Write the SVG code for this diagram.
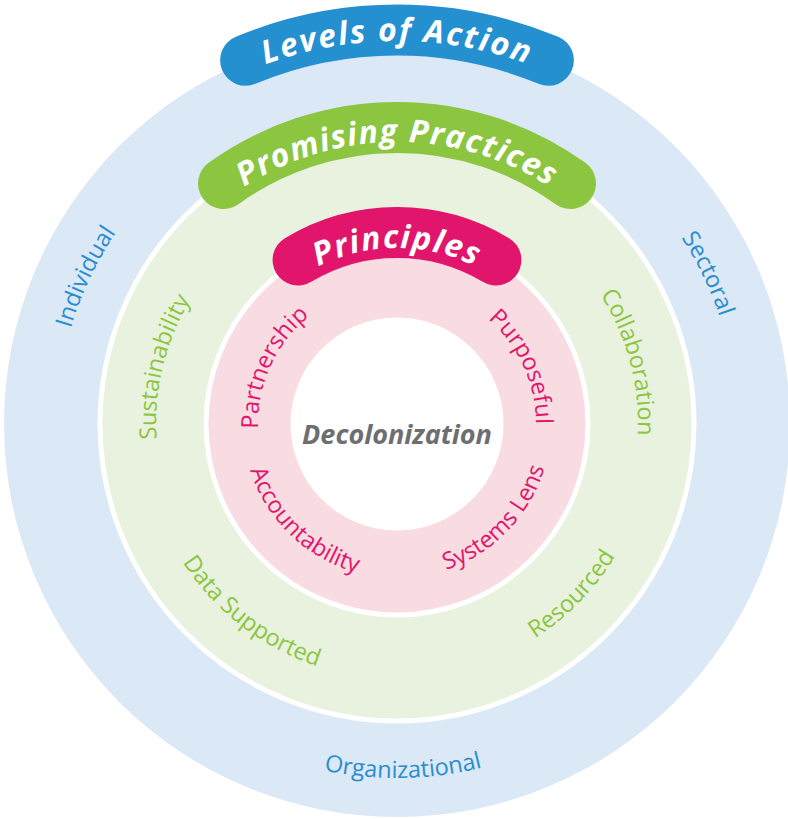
<svg xmlns="http://www.w3.org/2000/svg" xmlns:xlink="http://www.w3.org/1999/xlink" width="788" height="819" viewBox="0 0 788 819">
  <style>
    .band { fill: none; stroke-width: 51; stroke-linecap: round; }
    .title { font-family: "Open Sans", "DejaVu Sans", sans-serif; font-weight: 700; font-style: italic; font-size: 32px; fill: #ffffff; }
    .lbl { font-family: "Open Sans", "DejaVu Sans", sans-serif; font-size: 23.5px; font-stretch: 90%; }
    .blue { fill: #2a8dd0; }
    .green { fill: #8cc641; }
    .pink { fill: #e0156b; }
  </style>
  <defs>
    <!-- clockwise arcs centred on the top of the rings (text reads along the top) -->
    <path id="cw383" d="M 15.46 390.62 A 383 383 0 0 1 778.54 390.62"/>
    <path id="cw282" d="M 116.07 399.42 A 282 282 0 0 1 677.93 399.42"/>
    <path id="cw176" d="M 221.67 408.66 A 176 176 0 0 1 572.33 408.66"/>
    <path id="cw340" d="M 58.30 394.37 A 340 340 0 0 1 735.70 394.37"/>
    <path id="cw241" d="M 156.92 402.99 A 241 241 0 0 1 637.08 402.99"/>
    <path id="cw139" d="M 258.53 411.88 A 139 139 0 0 1 535.47 411.88"/>
    <!-- counter-clockwise arcs centred on the bottom (text reads along the bottom) -->
    <path id="ccw354" d="M 44.35 454.85 A 354 354 0 0 0 749.65 454.85"/>
    <path id="ccw255" d="M 142.97 446.23 A 255 255 0 0 0 651.03 446.23"/>
    <path id="ccw154" d="M 243.59 437.42 A 154 154 0 0 0 550.41 437.42"/>
  </defs>

  <!-- Outer ring: levels of action -->
  <g id="levels-ring">
    <circle cx="397" cy="424" r="393" fill="#dbe8f6"/>
    <text class="lbl blue" transform="rotate(-64.7 397 424)"><textPath href="#cw340" xlink:href="#cw340" startOffset="50%" text-anchor="middle">Individual</textPath></text>
    <text class="lbl blue" transform="rotate(64.2 397 424)"><textPath href="#cw340" xlink:href="#cw340" startOffset="50%" text-anchor="middle">Sectoral</textPath></text>
    <text class="lbl blue" transform="rotate(-1 397 424)"><textPath href="#ccw354" xlink:href="#ccw354" startOffset="50%" text-anchor="middle">Organizational</textPath></text>
  </g>

  <!-- Middle ring: promising practices -->
  <g id="practices-ring">
    <circle cx="397" cy="424" r="297" fill="#e8f2de" stroke="#ffffff" stroke-width="5"/>
    <text class="lbl green" transform="rotate(-76.3 397 424)"><textPath href="#cw241" xlink:href="#cw241" startOffset="50%" text-anchor="middle">Sustainability</textPath></text>
    <text class="lbl green" transform="rotate(75.1 397 424)"><textPath href="#cw241" xlink:href="#cw241" startOffset="50%" text-anchor="middle">Collaboration</textPath></text>
    <text class="lbl green" transform="rotate(37.7 397 424)"><textPath href="#ccw255" xlink:href="#ccw255" startOffset="50%" text-anchor="middle">Data Supported</textPath></text>
    <text class="lbl green" transform="rotate(-45.8 397 424)"><textPath href="#ccw255" xlink:href="#ccw255" startOffset="50%" text-anchor="middle">Resourced</textPath></text>
  </g>

  <!-- Inner ring: principles -->
  <g id="principles-ring">
    <circle cx="397" cy="424" r="191" fill="#f9dce1" stroke="#ffffff" stroke-width="5"/>
    <text class="lbl pink" transform="rotate(-65.5 397 424)"><textPath href="#cw139" xlink:href="#cw139" startOffset="50%" text-anchor="middle">Partnership</textPath></text>
    <text class="lbl pink" transform="rotate(65.5 397 424)"><textPath href="#cw139" xlink:href="#cw139" startOffset="50%" text-anchor="middle">Purposeful</textPath></text>
    <text class="lbl pink" transform="rotate(43.8 397 424)"><textPath href="#ccw154" xlink:href="#ccw154" startOffset="50%" text-anchor="middle">Accountability</textPath></text>
    <text class="lbl pink" transform="rotate(-46 397 424)"><textPath href="#ccw154" xlink:href="#ccw154" startOffset="50%" text-anchor="middle">Systems Lens</textPath></text>
  </g>

  <!-- Core -->
  <g id="core">
    <circle cx="397" cy="424" r="106.5" fill="#ffffff"/>
    <text x="397" y="444" text-anchor="middle" font-family="'Open Sans', 'DejaVu Sans', sans-serif" font-weight="700" font-style="italic" font-size="27" fill="#6d6e71">Decolonization</text>
  </g>

  <!-- Curved title banners riding on each ring edge -->
  <g id="banner-levels">
    <path class="band" stroke="#2590d0" d="M 245.6 60.3 A 394 394 0 0 1 548.4 60.3"/>
    <text class="title" letter-spacing="2"><textPath href="#cw383" xlink:href="#cw383" startOffset="50%" text-anchor="middle">Levels of Action</textPath></text>
  </g>
  <g id="banner-practices">
    <path class="band" stroke="#8cc641" d="M 223.5 183.5 A 296.5 296.5 0 0 1 570.5 183.5"/>
    <text class="title" letter-spacing="1.3"><textPath href="#cw282" xlink:href="#cw282" startOffset="50%" text-anchor="middle">Promising Practices</textPath></text>
  </g>
  <g id="banner-principles">
    <path class="band" stroke="#e0156b" d="M 298.1 260 A 191.5 191.5 0 0 1 495.9 260"/>
    <text class="title" letter-spacing="1.5"><textPath href="#cw176" xlink:href="#cw176" startOffset="50%" text-anchor="middle">Principles</textPath></text>
  </g>
</svg>
